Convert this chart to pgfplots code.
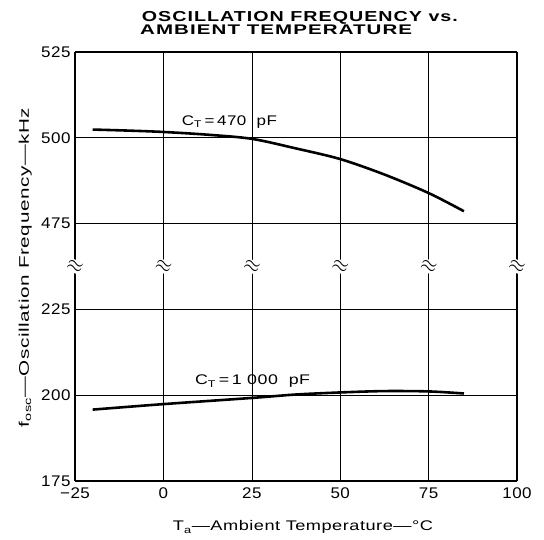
\documentclass[border=0pt]{standalone}
\usepackage{graphicx}
\usepackage{pgfplots}
\pgfplotsset{compat=1.18}
\usepackage{fontspec}
\setmainfont{Liberation Sans}[FakeStretch=1.1, LetterSpace=3]
\newfontfamily\titlefont{Liberation Sans}[FakeStretch=1.15, LetterSpace=6]
\newcommand\fitw[2]{\resizebox{#1}{\height}{#2}}
\begin{document}
\begin{tikzpicture}[font=\fontsize{14}{16}\selectfont]
\pgfplotsset{
  common/.style={
    scale only axis, width=442bp, height=214.5bp,
    xmin=-25, xmax=100,
    xtick={-25,0,25,50,75,100},
    grid=major,
    major grid style={black, line width=0.6pt},
    major tick length=0pt,
    axis line style={black, line width=1.3pt, -},
    x axis line style={-}, y axis line style={-},
    /pgf/number format/assume math mode=true,
    tick label style={font=\fontsize{15.5}{16}\selectfont},
    yticklabel style={xshift=-1bp},
  }
}
\begin{axis}[common, name=top,
  ymin=462.5, ymax=525,
  ytick={475,500,525}, yticklabels={475,500,525},
  xticklabels={},
  axis x line*=top,
]
\addplot[black, line width=2.6pt, smooth] coordinates {
 (-20,502.4) (-10,502.1) (0,501.7) (12.5,500.9) (25,499.7) (37.5,496.9)
 (50,493.8) (62.5,489.3) (75,483.9) (85,478.6)};
\node[anchor=base west, inner sep=0pt] at (axis cs:5.2,503.7)
  {\fitw{95bp}{C\textsubscript{T}\,=\,470\ \ pF}};
\end{axis}
\begin{axis}[common, name=bot,
  at={(top.south west)}, anchor=north west,
  ymin=175, ymax=237.5,
  ytick={175,200,225}, yticklabels={175,200,225},
  xticklabels={−25,0,25,50,75,100},
  xticklabel style={yshift=-3bp},
  axis x line*=bottom,
]
\addplot[black, line width=2.6pt, smooth] coordinates {
 (-20,195.8) (0,197.4) (25,199.2) (37.5,200.2) (50,200.8)
 (62.5,201.2) (75,201.1) (85,200.5)};
\node[anchor=base west, inner sep=0pt] at (axis cs:8.9,203.0)
  {\fitw{115bp}{C\textsubscript{T}\,=\,1\ 000\ \ pF}};
\end{axis}
\foreach \p in {0,0.2,0.4,0.6,0.8,1}{
  \path (bot.north west) -- (bot.north east)
    node[pos=\p, fill=white, inner xsep=0pt, inner ysep=1.5pt, rotate=-20, font=\fontsize{22}{22}\selectfont] {$\approx$};
}
% axis labels
\node[anchor=base, inner sep=0pt] at ([xshift=228bp, yshift=-479bp]top.north west)
  {\fitw{260bp}{T\textsubscript{a}—Ambient Temperature—°C}};
\node[rotate=90, anchor=base, inner sep=0pt] at ([xshift=-46bp, yshift=-215.5bp]top.north west)
  {\fitw{319bp}{f\textsubscript{osc}—Oscillation Frequency—kHz}};
% title
\node[anchor=base west, inner sep=0pt, font=\titlefont\fontsize{14.5}{14}\selectfont\bfseries]
  at ([xshift=66.7bp, yshift=30.3bp]top.north west)
  {\fitw{316bp}{OSCILLATION FREQUENCY vs.}};
\node[anchor=base west, inner sep=0pt, font=\titlefont\fontsize{14}{14}\selectfont\bfseries]
  at ([xshift=65bp, yshift=17bp]top.north west)
  {\fitw{272bp}{AMBIENT TEMPERATURE}};
\path ([xshift=-75bp, yshift=-59bp]bot.south west) ([xshift=27bp, yshift=52bp]top.north east);
\end{tikzpicture}
\end{document}
